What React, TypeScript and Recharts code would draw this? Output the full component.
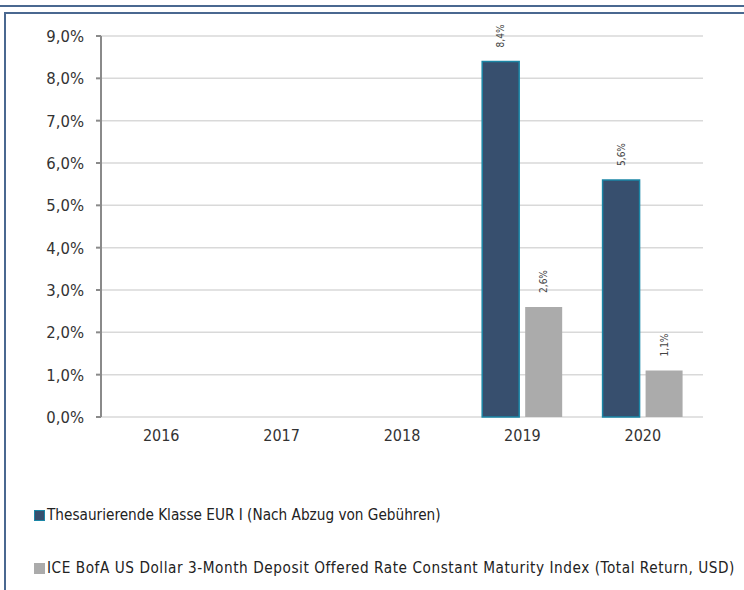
import React from 'react';
import { BarChart, Bar, XAxis, YAxis, CartesianGrid, Legend, LabelList } from 'recharts';

const years = ['2016', '2017', '2018', '2019', '2020'];
const fundValues: (number | null)[] = [null, null, null, 8.4, 5.6];
const indexValues: (number | null)[] = [null, null, null, 2.6, 1.1];
const yTicks = [0, 1, 2, 3, 4, 5, 6, 7, 8, 9];
const edgeTicks = [0, 1, 2, 3, 4, 5];
const fundName = 'Thesaurierende Klasse EUR I (Nach Abzug von Gebühren)';
const indexName = 'ICE BofA US Dollar 3-Month Deposit Offered Rate Constant Maturity Index (Total Return, USD)';

const data = years.map((y, i) => ({ year: y, fund: fundValues[i], index: indexValues[i] }));

const FONT = "'DejaVu Sans Condensed', 'Liberation Sans Narrow', sans-serif";
const DARK = '#374f6e';
const DARK_EDGE = '#1b86a6';
const GRAY = '#ababab';
const AXIS = '#8a8a8a';
const FRAME = '#4a6890';

const fmt = (v: number) => v.toFixed(1).replace('.', ',') + '%';

const RotLabel = (props: any) => {
  const { x, y, width, value } = props;
  if (value == null) return null;
  const cx = x + width / 2;
  const ty = y - 14;
  return (
    <text
      x={cx}
      y={ty}
      transform={`rotate(-90, ${cx}, ${ty})`}
      textAnchor="start"
      dominantBaseline="central"
      fontSize={10}
      fill="#444"
      fontFamily={FONT}
    >
      {fmt(value)}
    </text>
  );
};

const LegendContent = () => (
  <div style={{ fontFamily: FONT, fontSize: 15.2, color: '#222', position: 'relative', height: 80 }}>
    <div style={{ position: 'absolute', left: 0, top: 6, display: 'flex', alignItems: 'center', whiteSpace: 'nowrap' }}>
      <span style={{ display: 'inline-block', width: 9, height: 9, background: DARK, border: `1px solid ${DARK_EDGE}`, marginRight: 2 }} />
      <span>{fundName}</span>
    </div>
    <div style={{ position: 'absolute', left: 0, top: 59, display: 'flex', alignItems: 'center', whiteSpace: 'nowrap' }}>
      <span style={{ display: 'inline-block', width: 11, height: 11, background: GRAY, marginRight: 2 }} />
      <span style={{ letterSpacing: 0.55 }}>{indexName}</span>
    </div>
  </div>
);

export default function App() {
  return (
    <div style={{ position: 'absolute', left: 0, top: 0, width: 744, height: 590, background: '#fff', overflow: 'hidden' }}>
      <div style={{ position: 'absolute', left: 0, top: 5, width: 744, height: 2, background: FRAME }} />
      <div style={{ position: 'absolute', left: 4, top: 12, width: 744, height: 600, borderLeft: `2px solid ${FRAME}`, borderTop: `2px solid ${FRAME}`, boxSizing: 'border-box' }} />
      <div style={{ position: 'absolute', left: 0, top: 0 }}>
        <BarChart
          width={744}
          height={590}
          data={data}
          margin={{ top: 36, right: 41, bottom: 53, left: 0 }}
          barCategoryGap="16.6%"
          barGap={6}
          style={{ fontFamily: FONT }}
        >
          <CartesianGrid horizontal vertical={false} stroke="#d9d9d9" strokeWidth={1.5} />
          <XAxis
            xAxisId="edges"
            type="number"
            domain={[0, 5]}
            allowDataOverflow
            ticks={edgeTicks}
            tick={false}
            height={0}
            tickSize={6}
            axisLine={{ stroke: AXIS, strokeWidth: 2 }}
            tickLine={{ stroke: AXIS, strokeWidth: 2 }}
          />
          <XAxis
            xAxisId="cat"
            dataKey="year"
            height={40}
            axisLine={false}
            tickLine={false}
            tickSize={0}
            tickMargin={13}
            tick={{ fill: '#333', fontSize: 16, fontFamily: FONT }}
          />
          <YAxis
            width={101}
            domain={[0, 9]}
            ticks={yTicks}
            interval={0}
            tickFormatter={(v: number) => fmt(v)}
            tickSize={5}
            tickMargin={12}
            axisLine={{ stroke: AXIS, strokeWidth: 2 }}
            tickLine={{ stroke: AXIS, strokeWidth: 2 }}
            tick={{ fill: '#333', fontSize: 16.5, fontFamily: FONT }}
          />
          <Legend
            verticalAlign="bottom"
            content={<LegendContent />}
            wrapperStyle={{ position: 'absolute', left: 34, top: 500, width: 710, height: 80 }}
          />
          <Bar xAxisId="cat" dataKey="fund" name={fundName} fill={DARK} stroke={DARK_EDGE} strokeWidth={1.5} isAnimationActive={false}>
            <LabelList dataKey="fund" content={<RotLabel />} />
          </Bar>
          <Bar xAxisId="cat" dataKey="index" name={indexName} fill={GRAY} isAnimationActive={false}>
            <LabelList dataKey="index" content={<RotLabel />} />
          </Bar>
        </BarChart>
      </div>
    </div>
  );
}
